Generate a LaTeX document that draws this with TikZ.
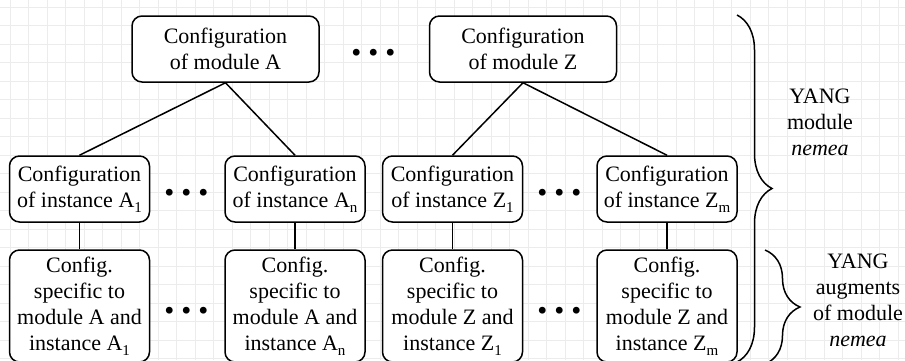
\documentclass[tikz,border=0pt]{standalone}
\usepackage{fontspec}
\setmainfont{Liberation Serif}
\usetikzlibrary{decorations.pathreplacing}
\definecolor{gridc}{RGB}{236,236,236}
\tikzset{
  cfgbox/.style={draw, line width=1.5pt, rounded corners=10pt, align=center,
    inner sep=0pt, font=\fontsize{22}{26}\selectfont, fill=white},
  topbox/.style={cfgbox, minimum width=187pt, minimum height=66pt},
  midbox/.style={cfgbox, minimum width=140pt, minimum height=66pt},
  lowbox/.style={cfgbox, minimum width=140pt, minimum height=112pt},
  link/.style={line width=1.5pt},
  dots/.style={inner sep=0pt, font=\fontsize{42}{42}\bfseries\selectfont},
  sidetext/.style={align=center, inner sep=0pt, font=\fontsize{22}{26}\selectfont},
  bracel/.style={line width=1.5pt, decorate, decoration={brace, amplitude=35pt}}
}
\newcommand{\dotrow}{.\hspace{6.5pt}.\hspace{6.5pt}.}
\newcommand{\lowsub}[1]{\raisebox{-5pt}{\fontsize{15}{15}\selectfont #1}}
\begin{document}
\begin{tikzpicture}[x=1pt,y=-1pt]
\useasboundingbox (0,0) rectangle (905,360);
\clip (0,0) rectangle (905,360);
\fill[white] (0,0) rectangle (905,360);
\foreach \i in {0,...,49} {
  \draw[gridc, line width=0.8pt] ({10+18.5*\i},0) -- ({10+18.5*\i},360);
}
\foreach \i in {0,...,19} {
  \draw[gridc, line width=0.8pt] (0,{7+18.5*\i}) -- (905,{7+18.5*\i});
}
% top row
\node[topbox] (A) at (225.5,49) {Configuration\\of module A};
\node[topbox] (Z) at (523,49) {Configuration\\of module Z};
\node[dots] (d0) at (373.5,53) {\dotrow};
% middle row
\node[midbox] (A1) at (79.5,189) {Configuration\\of instance A\lowsub{1}};
\node[midbox] (An) at (295,189) {Configuration\\of instance A\lowsub{n}};
\node[midbox] (Z1) at (452.5,189) {Configuration\\of instance Z\lowsub{1}};
\node[midbox] (Zm) at (667,189) {Configuration\\of instance Z\lowsub{m}};
\node[dots] (d1) at (186.5,193) {\dotrow};
\node[dots] (d2) at (560,193) {\dotrow};
% bottom row
\node[lowbox] (B1) at (79.5,306) {Config.\\specific to\\module A and\\instance A\lowsub{1}};
\node[lowbox] (Bn) at (295,306) {Config.\\specific to\\module A and\\instance A\lowsub{n}};
\node[lowbox] (C1) at (452.5,306) {Config.\\specific to\\module Z and\\instance Z\lowsub{1}};
\node[lowbox] (Cm) at (667,306) {Config.\\specific to\\module Z and\\instance Z\lowsub{m}};
\node[dots] (d3) at (186.5,311) {\dotrow};
\node[dots] (d4) at (560,311) {\dotrow};
% connectors
\draw[link] (A.south) -- (A1.north);
\draw[link] (A.south) -- (An.north);
\draw[link] (Z.south) -- (Z1.north);
\draw[link] (Z.south) -- (Zm.north);
\draw[link] (A1.south) -- (B1.north);
\draw[link] (An.south) -- (Bn.north);
\draw[link] (Z1.south) -- (C1.north);
\draw[link] (Zm.south) -- (Cm.north);
% braces
\coordinate (b1s) at (737,15);
\coordinate (b1e) at (737,362);
\coordinate (b2s) at (765,250);
\coordinate (b2e) at (765,364);
\draw[bracel] (b1s) -- (b1e);
\draw[bracel] (b2s) -- (b2e);
\node[sidetext] (t1) at (820,122) {YANG\\module\\\textit{nemea}};
\node[sidetext] (t2) at (858,300) {YANG\\augments\\of module\\\textit{nemea}};
\end{tikzpicture}
\end{document}
